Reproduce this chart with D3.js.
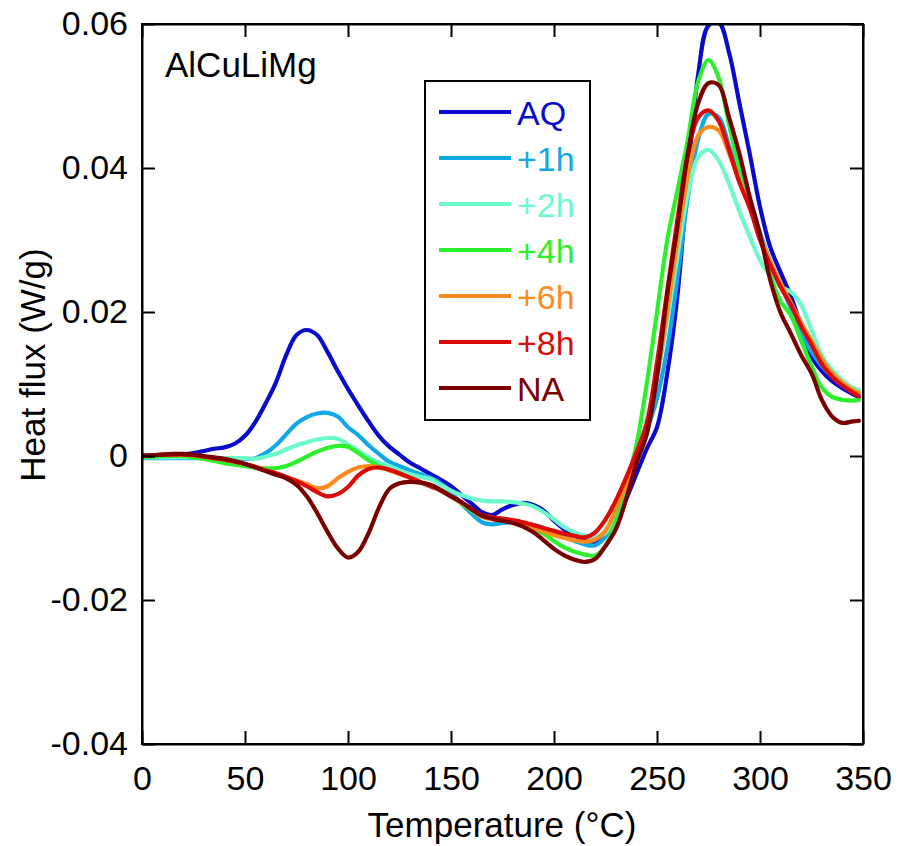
<!DOCTYPE html>
<html>
<head>
<meta charset="utf-8">
<script src="https://cdn.jsdelivr.net/npm/d3@7"></script>
<style>
  html, body { margin: 0; padding: 0; background: #fff; }
  svg { display: block; font-family: "Liberation Sans", Arial, sans-serif; }
</style>
</head>
<body>
<svg id="chart" width="898" height="846"></svg>
<script>
// ---------------- data ----------------
const temperatures = [0,5,10,15,20,25,30,35,40,45,
  50,55,60,65,70,75,80,85,90,95,
  100,105,110,115,120,125,130,135,140,145,
  150,155,160,165,170,175,180,185,190,195,
  200,205,210,215,220,225,230,235,240,245,
  250,255,260,265,270,275,280,285,290,295,
  300,305,310,315,320,325,330,335,340,345,
  348];

const seriesNames = ["AQ", "+1h", "+2h", "+4h", "+6h", "+8h", "NA"];
const seriesColors = ["#0a0acc", "#12a8e6", "#6cfacb", "#2cf02c", "#ff8a1e", "#dd0a0a", "#7a0000"];

const valuesAQ = [-0.0001,-0.0001,0.0000,0.0001,0.0002,0.0004,0.0007,0.0010,0.0012,0.0017,
  0.0028,0.0047,0.0073,0.0102,0.0140,0.0168,0.0175,0.0168,0.0145,0.0118,
  0.0093,0.0070,0.0048,0.0028,0.0013,0.0002,-0.0009,-0.0017,-0.0025,-0.0033,
  -0.0042,-0.0054,-0.0066,-0.0078,-0.0082,-0.0074,-0.0068,-0.0065,-0.0068,-0.0076,
  -0.0090,-0.0102,-0.0110,-0.0118,-0.0120,-0.0110,-0.0090,-0.0060,-0.0025,0.0010,
  0.0040,0.0115,0.0225,0.0390,0.0530,0.0598,0.0602,0.0560,0.0490,0.0420,
  0.0346,0.0290,0.0255,0.0222,0.0180,0.0138,0.0118,0.0104,0.0094,0.0086,
  0.0082];

const values1h = [-0.0003,-0.0003,-0.0003,-0.0003,-0.0003,-0.0003,-0.0003,-0.0003,-0.0003,-0.0004,
  -0.0004,-0.0003,0.0004,0.0015,0.0030,0.0045,0.0054,0.0059,0.0060,0.0055,
  0.0040,0.0029,0.0015,0.0003,-0.0008,-0.0014,-0.0020,-0.0025,-0.0030,-0.0038,
  -0.0050,-0.0066,-0.0080,-0.0092,-0.0095,-0.0093,-0.0092,-0.0093,-0.0096,-0.0100,
  -0.0106,-0.0112,-0.0118,-0.0123,-0.0124,-0.0112,-0.0085,-0.0052,-0.0005,0.0035,
  0.0080,0.0150,0.0250,0.0360,0.0440,0.0475,0.0470,0.0430,0.0385,0.0345,
  0.0310,0.0270,0.0238,0.0205,0.0170,0.0145,0.0125,0.0110,0.0098,0.0090,
  0.0087];

const values2h = [-0.0002,-0.0002,-0.0002,-0.0002,-0.0002,-0.0002,-0.0002,-0.0003,-0.0003,-0.0003,
  -0.0003,-0.0004,-0.0001,0.0003,0.0009,0.0015,0.0019,0.0023,0.0025,0.0024,
  0.0016,0.0007,-0.0002,-0.0009,-0.0014,-0.0020,-0.0025,-0.0029,-0.0032,-0.0040,
  -0.0048,-0.0054,-0.0059,-0.0062,-0.0063,-0.0063,-0.0064,-0.0066,-0.0070,-0.0078,
  -0.0088,-0.0099,-0.0106,-0.0111,-0.0112,-0.0107,-0.0075,-0.0040,0.0000,0.0050,
  0.0110,0.0190,0.0280,0.0365,0.0415,0.0425,0.0410,0.0378,0.0340,0.0305,
  0.0272,0.0250,0.0235,0.0228,0.0210,0.0175,0.0140,0.0120,0.0105,0.0095,
  0.0092];

const values4h = [-0.0001,-0.0001,0.0000,0.0000,0.0000,-0.0002,-0.0004,-0.0007,-0.0010,-0.0012,
  -0.0014,-0.0016,-0.0017,-0.0017,-0.0014,-0.0008,-0.0001,0.0006,0.0011,0.0014,
  0.0013,0.0004,-0.0006,-0.0014,-0.0019,-0.0024,-0.0030,-0.0036,-0.0042,-0.0048,
  -0.0056,-0.0066,-0.0076,-0.0084,-0.0087,-0.0088,-0.0090,-0.0094,-0.0100,-0.0108,
  -0.0118,-0.0127,-0.0133,-0.0137,-0.0138,-0.0125,-0.0090,-0.0040,0.0015,0.0100,
  0.0200,0.0300,0.0370,0.0440,0.0520,0.0550,0.0525,0.0460,0.0400,0.0355,
  0.0310,0.0250,0.0215,0.0195,0.0160,0.0125,0.0095,0.0082,0.0078,0.0077,
  0.0078];

const values6h = [0.0000,0.0001,0.0002,0.0002,0.0002,0.0001,-0.0001,-0.0003,-0.0005,-0.0008,
  -0.0011,-0.0015,-0.0020,-0.0024,-0.0029,-0.0034,-0.0039,-0.0045,-0.0042,-0.0031,
  -0.0022,-0.0016,-0.0014,-0.0016,-0.0020,-0.0025,-0.0030,-0.0036,-0.0042,-0.0048,
  -0.0056,-0.0065,-0.0075,-0.0084,-0.0088,-0.0089,-0.0091,-0.0095,-0.0100,-0.0105,
  -0.0110,-0.0114,-0.0117,-0.0119,-0.0116,-0.0104,-0.0074,-0.0040,-0.0002,0.0040,
  0.0110,0.0200,0.0300,0.0390,0.0445,0.0457,0.0452,0.0420,0.0382,0.0345,
  0.0305,0.0270,0.0240,0.0213,0.0185,0.0160,0.0135,0.0115,0.0102,0.0092,
  0.0088];

const values8h = [0.0000,0.0001,0.0002,0.0002,0.0002,0.0001,-0.0001,-0.0003,-0.0005,-0.0008,
  -0.0011,-0.0015,-0.0020,-0.0024,-0.0029,-0.0035,-0.0042,-0.0050,-0.0056,-0.0053,
  -0.0043,-0.0027,-0.0018,-0.0016,-0.0019,-0.0024,-0.0030,-0.0036,-0.0042,-0.0048,
  -0.0056,-0.0064,-0.0074,-0.0082,-0.0085,-0.0087,-0.0089,-0.0092,-0.0096,-0.0100,
  -0.0104,-0.0108,-0.0111,-0.0113,-0.0106,-0.0088,-0.0062,-0.0030,0.0005,0.0045,
  0.0130,0.0230,0.0330,0.0420,0.0470,0.0480,0.0465,0.0425,0.0380,0.0345,
  0.0300,0.0265,0.0235,0.0210,0.0180,0.0155,0.0128,0.0110,0.0098,0.0088,
  0.0083];

const valuesNA = [0.0001,0.0001,0.0002,0.0003,0.0003,0.0002,0.0000,-0.0002,-0.0004,-0.0007,
  -0.0011,-0.0016,-0.0021,-0.0026,-0.0031,-0.0040,-0.0056,-0.0079,-0.0105,-0.0128,
  -0.0141,-0.0133,-0.0107,-0.0072,-0.0046,-0.0038,-0.0036,-0.0037,-0.0040,-0.0047,
  -0.0056,-0.0064,-0.0074,-0.0083,-0.0087,-0.0090,-0.0093,-0.0098,-0.0106,-0.0117,
  -0.0129,-0.0138,-0.0144,-0.0147,-0.0143,-0.0125,-0.0102,-0.0060,-0.0010,0.0030,
  0.0110,0.0225,0.0320,0.0420,0.0490,0.0518,0.0515,0.0470,0.0420,0.0360,
  0.0308,0.0244,0.0199,0.0170,0.0140,0.0115,0.0078,0.0055,0.0046,0.0048,
  0.0049];

const xTicks = [0, 50, 100, 150, 200, 250, 300, 350];
const yTicks = [-0.04, -0.02, 0, 0.02, 0.04, 0.06];
const yTickLabels = ["-0.04", "-0.02", "0", "0.02", "0.04", "0.06"];

const seriesValues = [valuesAQ, values1h, values2h, values4h, values6h, values8h, valuesNA];

// ---------------- layout ----------------
const svg = d3.select("#chart");
const L = 142, R = 863, T = 24, B = 744;
const FONT = '"Liberation Sans", Arial, sans-serif';

const x = d3.scaleLinear().domain([0, 350]).range([L, R]);
const y = d3.scaleLinear().domain([-0.04, 0.06]).range([B, T]);

svg.append("defs").append("clipPath").attr("id", "plotclip")
  .append("rect").attr("x", L).attr("y", T).attr("width", R - L).attr("height", B - T);

// lines
const line = d3.line()
  .x(d => x(d.t))
  .y(d => y(d.v))
  .curve(d3.curveCatmullRom.alpha(0.5));

const gLines = svg.append("g").attr("clip-path", "url(#plotclip)");
seriesNames.forEach((name, i) => {
  const pts = temperatures.map((t, j) => ({ t: t, v: seriesValues[i][j] }));
  gLines.append("path")
    .datum(pts)
    .attr("d", line)
    .attr("fill", "none")
    .attr("stroke", seriesColors[i])
    .attr("stroke-width", 4.2)
    .attr("stroke-linejoin", "round")
    .attr("stroke-linecap", "round");
});

// axes
function styleAxis(g) {
  g.selectAll(".domain").attr("stroke", "#000").attr("stroke-width", 2);
  g.selectAll(".tick line").attr("stroke", "#000").attr("stroke-width", 2);
  g.selectAll("text").attr("fill", "#000").style("font-family", FONT).style("font-size", "34px");
}

const xAxis = svg.append("g").attr("transform", `translate(0,${B})`)
  .call(d3.axisBottom(x).tickValues(xTicks).tickFormat(d3.format("d"))
    .tickSizeInner(-13).tickSizeOuter(0).tickPadding(22));
styleAxis(xAxis);

const yAxis = svg.append("g").attr("transform", `translate(${L},0)`)
  .call(d3.axisLeft(y).tickValues(yTicks).tickFormat((d, i) => yTickLabels[i])
    .tickSizeInner(-13).tickSizeOuter(0).tickPadding(14));
styleAxis(yAxis);

const xAxisTop = svg.append("g").attr("transform", `translate(0,${T})`)
  .call(d3.axisTop(x).tickValues(xTicks).tickFormat("").tickSizeInner(-13).tickSizeOuter(0));
styleAxis(xAxisTop);

const yAxisRight = svg.append("g").attr("transform", `translate(${R},0)`)
  .call(d3.axisRight(y).tickValues(yTicks).tickFormat("").tickSizeInner(-13).tickSizeOuter(0));
styleAxis(yAxisRight);

// frame
svg.append("rect").attr("x", L).attr("y", T).attr("width", R - L).attr("height", B - T)
  .attr("fill", "none").attr("stroke", "#000").attr("stroke-width", 2);

// axis titles
svg.append("text")
  .attr("x", 502).attr("y", 837)
  .attr("text-anchor", "middle")
  .style("font-family", FONT).style("font-size", "35px")
  .text("Temperature (°C)");

svg.append("text")
  .attr("transform", "translate(45,365) rotate(-90)")
  .attr("text-anchor", "middle")
  .style("font-family", FONT).style("font-size", "35px")
  .text("Heat flux (W/g)");

// annotation
svg.append("text")
  .attr("x", 165).attr("y", 77)
  .style("font-family", FONT).style("font-size", "35px")
  .text("AlCuLiMg");

// legend
const lg = svg.append("g");
lg.append("rect").attr("x", 425).attr("y", 81).attr("width", 165).attr("height", 339)
  .attr("fill", "#fff").attr("stroke", "#000").attr("stroke-width", 2);
seriesNames.forEach((name, i) => {
  const ry = 112 + i * 46;
  lg.append("line").attr("x1", 439).attr("x2", 511).attr("y1", ry).attr("y2", ry)
    .attr("stroke", seriesColors[i]).attr("stroke-width", 4.2);
  lg.append("text").attr("x", 517).attr("y", ry + 13)
    .attr("fill", seriesColors[i])
    .style("font-family", FONT).style("font-size", "34px")
    .text(name);
});
</script>
</body>
</html>
